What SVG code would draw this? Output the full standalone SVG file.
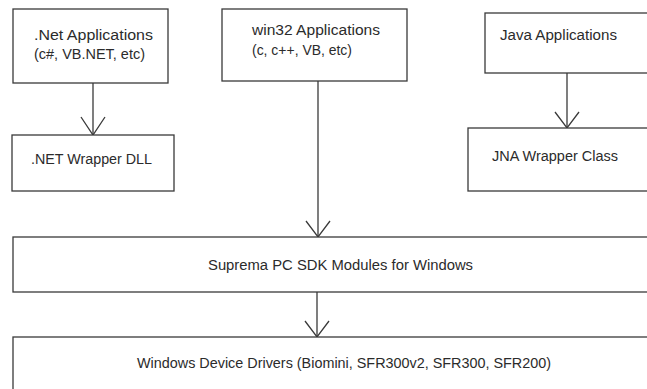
<svg xmlns="http://www.w3.org/2000/svg" width="647" height="389" viewBox="0 0 647 389">
<style>
.box{fill:#fff;stroke:#3a3a3a;stroke-width:1.3}
.t{font-family:"Liberation Sans",Arial,sans-serif;font-size:14px;fill:#2b2b2b}
.c{stroke:#3a3a3a;stroke-width:1.3;fill:none}
</style>
<rect width="647" height="389" fill="#fff"/>
<g id="connectors">
<line class="c" x1="93" y1="83" x2="93" y2="135"/>
<path class="c" d="M81,117 L93,135 L105,117"/>
<line class="c" x1="318" y1="81" x2="318" y2="237"/>
<path class="c" d="M306,221 L318,237 L330,221"/>
<line class="c" x1="567" y1="73" x2="567" y2="128"/>
<path class="c" d="M555,112 L567,128 L579,112"/>
<line class="c" x1="317" y1="292" x2="317" y2="337"/>
<path class="c" d="M305,321 L317,337 L329,321"/>
</g>
<g id="net-apps">
<rect class="box" x="13" y="9" width="155" height="74"/>
<text class="t" x="34" y="40" textLength="119" lengthAdjust="spacingAndGlyphs">.Net Applications</text>
<text class="t" x="34" y="59" textLength="111" lengthAdjust="spacingAndGlyphs">(c#, VB.NET, etc)</text>
</g>
<g id="net-wrapper">
<rect class="box" x="12" y="135" width="162" height="56"/>
<text class="t" x="31" y="164" textLength="121" lengthAdjust="spacingAndGlyphs">.NET Wrapper DLL</text>
</g>
<g id="win32-apps">
<rect class="box" x="222" y="9" width="185" height="72"/>
<text class="t" x="252" y="35" textLength="128" lengthAdjust="spacingAndGlyphs">win32 Applications</text>
<text class="t" x="252" y="55" textLength="100" lengthAdjust="spacingAndGlyphs">(c, c++, VB, etc)</text>
</g>
<g id="java-apps">
<rect class="box" x="485" y="13" width="180" height="60"/>
<text class="t" x="500" y="40" textLength="117" lengthAdjust="spacingAndGlyphs">Java Applications</text>
</g>
<g id="jna-wrapper">
<rect class="box" x="468" y="128" width="200" height="63"/>
<text class="t" x="492" y="161" textLength="126" lengthAdjust="spacingAndGlyphs">JNA Wrapper Class</text>
</g>
<g id="sdk-modules">
<rect class="box" x="13" y="237" width="660" height="55"/>
<text class="t" x="208" y="270" textLength="265" lengthAdjust="spacingAndGlyphs">Suprema PC SDK Modules for Windows</text>
</g>
<g id="device-drivers">
<rect class="box" x="13" y="337" width="660" height="70"/>
<text class="t" x="137" y="368" textLength="414" lengthAdjust="spacingAndGlyphs">Windows Device Drivers (Biomini, SFR300v2, SFR300, SFR200)</text>
</g>
</svg>
